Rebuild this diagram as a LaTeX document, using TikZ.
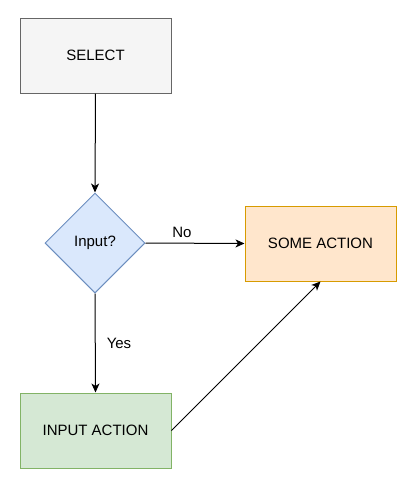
\documentclass[tikz,border=0pt]{standalone}
\usepackage{fontspec}
\setmainfont{Liberation Sans}
\usetikzlibrary{shapes.geometric,arrows.meta}
\definecolor{selfill}{HTML}{F5F5F5}\definecolor{selline}{HTML}{666666}
\definecolor{dfill}{HTML}{DAE8FC}\definecolor{dline}{HTML}{6C8EBF}
\definecolor{ofill}{HTML}{FFE6CC}\definecolor{oline}{HTML}{D79B00}
\definecolor{gfill}{HTML}{D5E8D4}\definecolor{gline}{HTML}{82B366}
\tikzset{
  box/.style={rectangle,minimum width=151pt,minimum height=75pt,inner sep=0pt,line width=1pt,font=\fontsize{15}{17}\selectfont},
  dec/.style={diamond,minimum width=100pt,minimum height=100pt,inner sep=0pt,aspect=1,line width=1pt,font=\fontsize{15}{17}\selectfont},
  conn/.style={line width=1pt,-{Stealth[length=9pt,width=8pt,inset=2.5pt]}},
  lbl/.style={font=\fontsize{15}{17}\selectfont,inner sep=0pt}
}
\begin{document}
\begin{tikzpicture}[x=1pt,y=-1pt]
\useasboundingbox (0,0) rectangle (409,493);
\node[box,fill=selfill,draw=selline] (sel) at (95.5,55.5) {SELECT};
\node[dec,fill=dfill,draw=dline] (inp) at (95,243) {Input?};
\node[box,fill=ofill,draw=oline] (some) at (320.5,243.5) {SOME ACTION};
\node[box,fill=gfill,draw=gline] (ia) at (95.5,430.5) {INPUT ACTION};
\draw[conn] (sel.south) -- (inp.north);
\draw[conn] (inp.east) -- (some.west);
\draw[conn] (inp.south) -- (ia.north);
\draw[conn] (ia.east) -- (some.south);
\node[lbl] (no) at (182,232) {No};
\node[lbl] (yes) at (119,343) {Yes};
\end{tikzpicture}
\end{document}
